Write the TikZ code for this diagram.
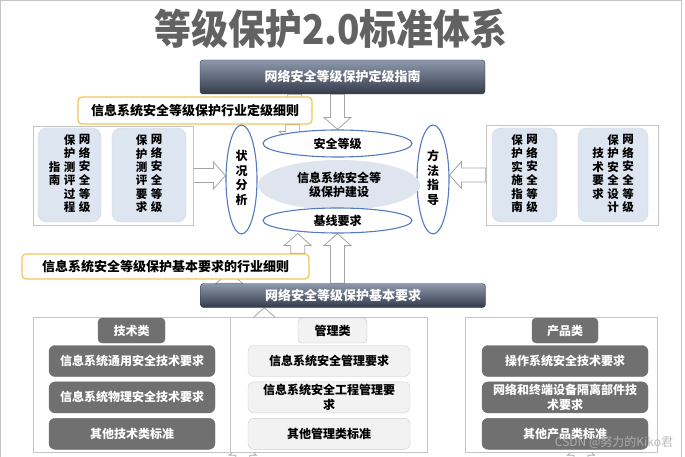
\documentclass[tikz,border=0pt]{standalone}
\usepackage{fontspec}
\setmainfont{Noto Sans CJK SC}
\usepackage{xcolor}
\usepackage{tikz}
\usetikzlibrary{positioning,shapes.geometric,calc}
\definecolor{titlegray}{RGB}{98,98,98}
\definecolor{bartop}{RGB}{142,153,172}
\definecolor{barbot}{RGB}{52,59,74}
\definecolor{noteyellow}{RGB}{245,197,90}
\definecolor{panelgray}{RGB}{196,196,196}
\definecolor{boxblue}{RGB}{221,230,240}
\definecolor{ovalblue}{RGB}{84,122,192}
\definecolor{coreblue}{RGB}{222,229,238}
\definecolor{itemdark}{RGB}{112,112,112}
\definecolor{itemlight}{RGB}{242,242,242}
\definecolor{arrowgray}{RGB}{165,165,165}

\pgfdeclarelayer{back}
\pgfsetlayers{back,main}

% vertical column of characters
\newcommand\vcol[1]{\begin{tabular}[c]{@{}c@{}}#1\end{tabular}}
% hollow block arrow from #1 to #2
\newcommand\blockarrow[2]{%
\coordinate (hb) at ($(#2)!12pt!(#1)$);
\draw[hollow] ($(#1)!7pt!90:(#2)$) -- ($(hb)!7pt!90:(#2)$) -- ($(hb)!13.5pt!90:(#2)$) -- (#2)
-- ($(hb)!13.5pt!-90:(#2)$) -- ($(hb)!7pt!-90:(#2)$) -- ($(#1)!7pt!-90:(#2)$) -- cycle;}

\tikzset{
title/.style={
font=\fontsize{41}{45}\selectfont\bfseries,
text=titlegray,
xscale=0.9,
transform shape
},
bar/.style={
draw=barbot,
rounded corners=3pt,
top color=bartop,
bottom color=barbot,
minimum width=285pt,
inner sep=0pt,
text=white,
font=\fontsize{13}{15}\selectfont\bfseries
},
note/.style={
draw=noteyellow,
line width=1.3pt,
rounded corners=4pt,
fill=white,
inner sep=0pt,
font=\fontsize{13}{15}\selectfont\bfseries
},
panel/.style={
draw=panelgray,
fill=white,
inner sep=0pt
},
vbox/.style={
draw=boxblue!85!gray,
rounded corners=9pt,
fill=boxblue,
minimum height=94pt,
inner sep=0pt,
font=\fontsize{11.5}{12.3}\selectfont\bfseries
},
oval/.style={
ellipse,
draw=ovalblue,
line width=1.1pt,
fill=white,
inner sep=0pt,
font=\fontsize{12}{14.5}\selectfont\bfseries
},
core/.style={
ellipse,
fill=coreblue,
inner sep=0pt,
align=center,
font=\fontsize{12}{14}\selectfont\bfseries
},
darktab/.style={
draw=itemdark,
rounded corners=4pt,
fill=itemdark,
minimum height=25pt,
inner sep=0pt,
text=white,
font=\fontsize{12}{14}\selectfont\bfseries
},
lighttab/.style={
draw=panelgray,
rounded corners=4pt,
fill=itemlight,
minimum height=25pt,
inner sep=0pt,
font=\fontsize{12}{14}\selectfont\bfseries
},
darkitem/.style={
draw=itemdark,
rounded corners=6pt,
fill=itemdark,
minimum height=31pt,
inner sep=0pt,
align=center,
text=white,
font=\fontsize{12}{15}\selectfont\bfseries
},
lightitem/.style={
draw=panelgray!80,
rounded corners=6pt,
fill=itemlight,
minimum height=31pt,
inner sep=0pt,
align=center,
font=\fontsize{12}{15}\selectfont\bfseries
},
hollow/.style={
draw=arrowgray,
fill=white,
line width=0.8pt
},
watermark/.style={
text=gray!60,
opacity=0.9,
font=\fontsize{12}{14}\selectfont
}
}

\begin{document}
\begin{tikzpicture}[x=1pt,y=-1pt,node distance=5pt]
\useasboundingbox (0,0) rectangle (685,457);
\draw[panelgray] (0.5,0.5) rectangle (681,460);

% title
\node[title] (title) at (331,29) {等级保护2.0标准体系};

% upper half
\node[bar,minimum height=34pt] (bar1) at (342.5,77) {网络安全等级保护定级指南};
\node[note,minimum width=234pt,minimum height=27pt] (note1) at (195,110.5) {信息系统安全等级保护行业定级细则};

\node[panel,minimum width=160pt,minimum height=99pt] (lpanel) at (113,175.5) {};
\node[vbox,minimum width=63pt] (lbox1) at (69.5,175) {\vcol{指\\南}\hspace{3.5pt}\vcol{保\\护\\测\\评\\过\\程}\hspace{3.5pt}\vcol{网\\络\\安\\全\\等\\级}};
\node[vbox,minimum width=74pt] (lbox2) at (149,175) {\vcol{保\\护\\测\\评\\要\\求}\hspace{3.5pt}\vcol{网\\络\\安\\全\\等\\级}};

\node[panel,minimum width=172pt,minimum height=100pt] (rpanel) at (572,175) {};
\node[vbox,minimum width=65pt] (rbox1) at (524.5,175) {\vcol{保\\护\\实\\施\\指\\南}\hspace{3.5pt}\vcol{网\\络\\安\\全\\等\\级}};
\node[vbox,minimum width=70pt] (rbox2) at (613,175) {\vcol{技\\术\\要\\求}\hspace{3.5pt}\vcol{保\\护\\安\\全\\设\\计}\hspace{3.5pt}\vcol{网\\络\\安\\全\\等\\级}};

\node[oval,minimum width=31pt,minimum height=109pt] (ellL) at (241.5,179.5) {\vcol{状\\况\\分\\析}};
\node[oval,minimum width=32pt,minimum height=109pt] (ellR) at (433,179.5) {\vcol{方\\法\\指\\导}};
\node[core,minimum width=162pt,minimum height=50pt] (core) at (339,185) {信息系统安全等\\级保护建设};
\node[oval,minimum width=149pt,minimum height=27pt] (ellTop) at (337.5,143.5) {安全等级};
\node[oval,minimum width=149pt,minimum height=25pt] (ellBot) at (337.5,220.5) {基线要求};

% lower half
\node[note,minimum width=287pt,minimum height=25pt] (note2) at (165.5,266.5) {信息系统安全等级保护基本要求的行业细则};
\node[bar,minimum height=24pt] (bar2) at (343,295.5) {网络安全等级保护基本要求};

\node[panel,minimum width=197pt,minimum height=135pt] (techpanel) at (131.5,384.5) {};
\node[panel,minimum width=197pt,minimum height=135pt] (mgmtpanel) at (328.5,384.5) {};
\node[panel,minimum width=192pt,minimum height=135pt] (prodpanel) at (561,384.5) {};

\node[darktab,minimum width=67pt] (techtab) at (131.5,330.5) {技术类};
\node[lighttab,minimum width=69pt] (mgmttab) at (332.5,330.5) {管理类};
\node[darktab,minimum width=66pt] (prodtab) at (565,330.5) {产品类};

\node[darkitem,minimum width=166pt] (tech1) at (132,361) {信息系统通用安全技术要求};
\node[darkitem,minimum width=166pt,below=5pt of tech1] (tech2) {信息系统物理安全技术要求};
\node[darkitem,minimum width=166pt,below=5pt of tech2] (tech3) {其他技术类标准};

\node[lightitem,minimum width=162pt] (mgmt1) at (329,361) {信息系统安全管理要求};
\node[lightitem,minimum width=162pt,below=5pt of mgmt1] (mgmt2) {信息系统安全工程管理要\\求};
\node[lightitem,minimum width=162pt,below=5pt of mgmt2] (mgmt3) {其他管理类标准};

\node[darkitem,minimum width=166pt] (prod1) at (565,361) {操作系统安全技术要求};
\node[darkitem,minimum width=166pt,below=5pt of prod1] (prod2) {网络和终端设备隔离部件技\\术要求};
\node[darkitem,minimum width=166pt,below=5pt of prod2] (prod3) {其他产品类标准};

\node[watermark] (wmark) at (614,442) {CSDN @努力的Kiko君};

% block arrows behind everything
\begin{pgfonlayer}{back}
\coordinate (n1in) at ($(note1.north east)+(-18,14)$);
\coordinate (n1src) at (bar1.south -| n1in);
\coordinate (n1out) at ($(note1.south east)+(-20,0)$);
\coordinate (n1tip) at (n1out |- ellTop.center);
\coordinate (b1out) at (bar1.south -| ellTop.north);
\coordinate (lout) at (lpanel.east);
\coordinate (lin) at (lpanel.east -| ellL.west);
\coordinate (rout) at (rpanel.west);
\coordinate (rin) at (rpanel.west -| ellR.east);
\coordinate (n2out) at ($(note2.north east)+(-12,0)$);
\coordinate (n2tip) at (n2out |- ellBot.south);
\coordinate (b2a) at ($(bar2.north west)+(29,0)$);
\coordinate (b2atip) at ($(b2a |- note2.south)+(0,-8)$);
\coordinate (b2b) at (bar2.north -| ellBot.south);
\coordinate (b2in) at ($(bar2.south west)+(64,0)$);
\coordinate (b2src) at (b2in |- mgmttab.center);
\coordinate (foot1) at ($(mgmtpanel.south west)+(13,40)$);
\coordinate (foot1tip) at ($(mgmtpanel.south west)+(13,-9)$);
\coordinate (foot2) at ($(prodpanel.south)+(20,40)$);
\coordinate (foot2tip) at ($(prodpanel.south)+(20,-9)$);

\foreach \s/\t in {n1src/n1in,n1out/n1tip,b1out/ellTop.north,lout/lin,rout/rin,
n2out/n2tip,b2a/b2atip,b2b/ellBot.south,b2src/b2in,foot1/foot1tip,foot2/foot2tip}
\blockarrow{\s}{\t};
\end{pgfonlayer}
\end{tikzpicture}
\end{document}
